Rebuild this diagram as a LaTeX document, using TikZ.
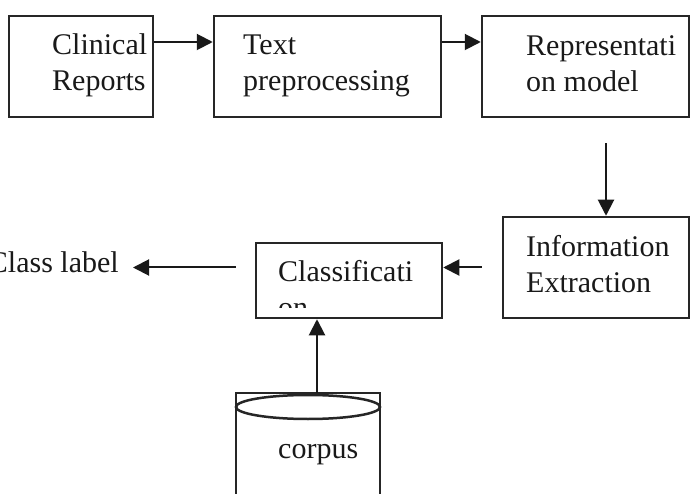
\documentclass[tikz,border=0pt]{standalone}
\usepackage{fontspec}
\setmainfont{Liberation Serif}
\usetikzlibrary{arrows.meta}
\begin{document}
\begin{tikzpicture}[x=1pt,y=-1pt,
  box/.style={draw=black!85, line width=2.5pt, rectangle, inner sep=0pt, minimum height=101pt},
  txt/.style={anchor=base west, inner sep=0pt, font=\fontsize{30}{36}\selectfont, text=black!90},
  arr/.style={draw=black!90, line width=2pt, -{Triangle[length=16pt,width=16pt]}}]
\useasboundingbox (0,0) rectangle (696,494);
% boxes
\node[box, minimum width=144pt] (clin) at (81,66.5) {};
\node[box, minimum width=227pt] (text) at (327.5,66.5) {};
\node[box, minimum width=207pt] (repr) at (585.5,66.5) {};
\node[box, minimum width=186pt] (info) at (596,267.5) {};
\node[box, minimum width=186pt, minimum height=75pt] (cls) at (349,280.5) {};
% texts
\node[txt] (clinA) at (52,55) {Clinical};
\node[txt] (clinB) at (52,91) {Reports};
\node[txt] (textA) at (243,55) {Text};
\node[txt] (textB) at (243,91) {preprocessing};
\node[txt] (reprA) at (526,56) {Representati};
\node[txt] (reprB) at (526,92) {on model};
\node[txt] (infoA) at (526,257) {Information};
\node[txt] (infoB) at (526,293) {Extraction};
\node[txt] (clsA) at (278,282) {Classificati};
\begin{scope}
  \clip (256,243) rectangle (442,308);
  \node[txt] (clsB) at (278,318) {on};
\end{scope}
\node[txt, anchor=base east] (label) at (119,273) {Class label};
% corpus cylinder
\draw[draw=black!85, line width=2.5pt] (236,500) -- (236,393) -- (380,393) -- (380,500);
\draw[draw=black!85, line width=2.5pt] (308,407) ellipse [x radius=72pt, y radius=12pt];
\node[txt] (corp) at (278,458) {corpus};
\coordinate (ctop) at (317,393);
% arrows
\draw[arr] ([yshift=24.5pt]clin.east) -- ([yshift=24.5pt]text.west);
\draw[arr] ([yshift=24.5pt]text.east) -- ([yshift=24.5pt]repr.west);
\draw[arr] ([xshift=20.5pt,yshift=-25pt]repr.south) -- ([xshift=10pt]info.north);
\draw[arr] ([xshift=-20pt]info.west) -- (cls.east |- info.west);
\draw[arr] ([xshift=-19pt]cls.west |- info.west) -- ([xshift=14pt]label.east |- info.west);
\draw[arr] (ctop) -- (ctop |- cls.south);
\end{tikzpicture}
\end{document}
